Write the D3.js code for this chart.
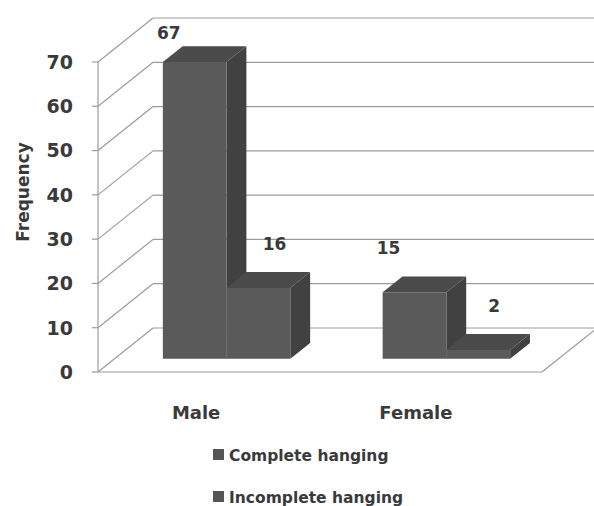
<!DOCTYPE html>
<html>
<head>
<meta charset="utf-8">
<script src="https://cdn.jsdelivr.net/npm/d3@7"></script>
<style>
    html, body { margin: 0; padding: 0; background: #fff; }
    svg { display: block; font-family: "DejaVu Sans", sans-serif; font-weight: bold; }
    .grid { stroke: #9c9c9c; stroke-width: 1.2; fill: none; }
    .txt { fill: #3a3a3a; }
</style>
</head>
<body>
<svg id="chart" width="594" height="506"></svg>
<script>
// data
const categories = ["Male", "Female"];
const seriesNames = ["Complete hanging", "Incomplete hanging"];
const completeValues = [67, 15];
const incompleteValues = [16, 2];
const yTicks = [0, 10, 20, 30, 40, 50, 60, 70];

class BarChart3D {
    constructor() {
        this.svg = d3.select("#chart");
        this.left = 98;
        this.right = 542;
        // depth of the box (back wall offset)
        this.dx = 55;
        this.dy = -44;
        this.barFront = 0.3;
        this.barBack = 0.66;

        this.y = d3.scaleLinear().domain([0, 70]).range([372, 62]);
        this.x0 = d3.scaleBand().domain(categories)
            .range([this.left, this.right])
            .paddingInner(0.42)
            .paddingOuter(0.22);
        this.x1 = d3.scaleBand().domain(seriesNames)
            .range([0, this.x0.bandwidth()]);

        this.rows = [];
        categories.forEach((cat, i) => {
            this.rows.push({cat, series: seriesNames[0], s: 0, value: completeValues[i]});
            this.rows.push({cat, series: seriesNames[1], s: 1, value: incompleteValues[i]});
        });

        this.drawGrid();
        this.drawBars();
        this.drawLabels();
        this.drawLegend();
    }

    // project front-plane x, value and depth fraction to screen
    p(x, v, d) {
        return [x + d * this.dx, this.y(v) + d * this.dy];
    }

    line(g, a, b) {
        g.append("line").attr("class", "grid")
            .attr("x1", a[0]).attr("y1", a[1])
            .attr("x2", b[0]).attr("y2", b[1]);
    }

    drawGrid() {
        const g = this.svg.append("g");
        yTicks.forEach(v => {
            this.line(g, this.p(this.left, v, 0), this.p(this.left, v, 1));
            this.line(g, this.p(this.left, v, 1), this.p(this.right, v, 1));
            // tick mark
            this.line(g, [this.left - 6, this.y(v)], [this.left, this.y(v)]);
        });
        // front axis and floor
        this.line(g, this.p(this.left, 0, 0), this.p(this.left, 70, 0));
        this.line(g, this.p(this.left, 0, 0), this.p(this.right, 0, 0));
        this.line(g, this.p(this.right, 0, 0), this.p(this.right, 0, 1));

        this.svg.append("g")
            .selectAll("text")
            .data(yTicks)
            .join("text")
            .attr("class", "txt")
            .attr("x", this.left - 25)
            .attr("y", d => this.y(d))
            .attr("dy", "0.36em")
            .attr("text-anchor", "end")
            .attr("font-size", 19)
            .text(d => d);

        this.svg.append("text")
            .attr("class", "txt")
            .attr("transform", "translate(29,192) rotate(-90)")
            .attr("text-anchor", "middle")
            .attr("font-size", 17)
            .text("Frequency");

        this.svg.append("g")
            .selectAll("text")
            .data(categories)
            .join("text")
            .attr("class", "txt")
            .attr("x", d => this.x0(d) + this.x0.bandwidth() / 2 - 14)
            .attr("y", 419)
            .attr("text-anchor", "middle")
            .attr("font-size", 18)
            .text(d => d);
    }

    drawBars() {
        const colors = {front: "#5a5a5a", top: "#4b4b4b", side: "#414141"};
        const g = this.svg.append("g");
        this.rows.forEach(r => {
            const xl = this.x0(r.cat) + this.x1(r.series);
            const xr = xl + this.x1.bandwidth();
            const f = this.barFront, b = this.barBack;
            const poly = pts => pts.map(q => q.join(",")).join(" ");

            g.append("polygon")
                .attr("points", poly([this.p(xr, 0, f), this.p(xr, r.value, f), this.p(xr, r.value, b), this.p(xr, 0, b)]))
                .attr("fill", colors.side);
            g.append("polygon")
                .attr("points", poly([this.p(xl, r.value, f), this.p(xr, r.value, f), this.p(xr, r.value, b), this.p(xl, r.value, b)]))
                .attr("fill", colors.top);
            g.append("polygon")
                .attr("points", poly([this.p(xl, 0, f), this.p(xr, 0, f), this.p(xr, r.value, f), this.p(xl, r.value, f)]))
                .attr("fill", colors.front);
        });
    }

    drawLabels() {
        this.svg.append("g")
            .selectAll("text")
            .data(this.rows)
            .join("text")
            .attr("class", "txt")
            .attr("font-size", 17)
            .attr("text-anchor", "middle")
            .attr("dy", "0.36em")
            .attr("x", d => {
                const c = this.x0(d.cat) + this.x1(d.series) + this.x1.bandwidth() / 2 + this.barFront * this.dx;
                return c + (d.s === 0 ? -26 : 16);
            })
            .attr("y", d => {
                const top = this.y(d.value) + this.barFront * this.dy;
                return Math.max(top - 44, this.y(70) - 29);
            })
            .text(d => d.value);
    }

    drawLegend() {
        const g = this.svg.append("g").attr("transform", "translate(213,449)");
        const item = g.selectAll("g")
            .data(seriesNames)
            .join("g")
            .attr("transform", (d, i) => `translate(0,${i * 42})`);
        item.append("rect")
            .attr("width", 11).attr("height", 11)
            .attr("fill", "#555");
        item.append("text")
            .attr("class", "txt")
            .attr("x", 16)
            .attr("y", 6)
            .attr("dy", "0.36em")
            .attr("font-size", 15.5)
            .text(d => d);
    }
}

const chart = new BarChart3D();
</script>
</body>
</html>
